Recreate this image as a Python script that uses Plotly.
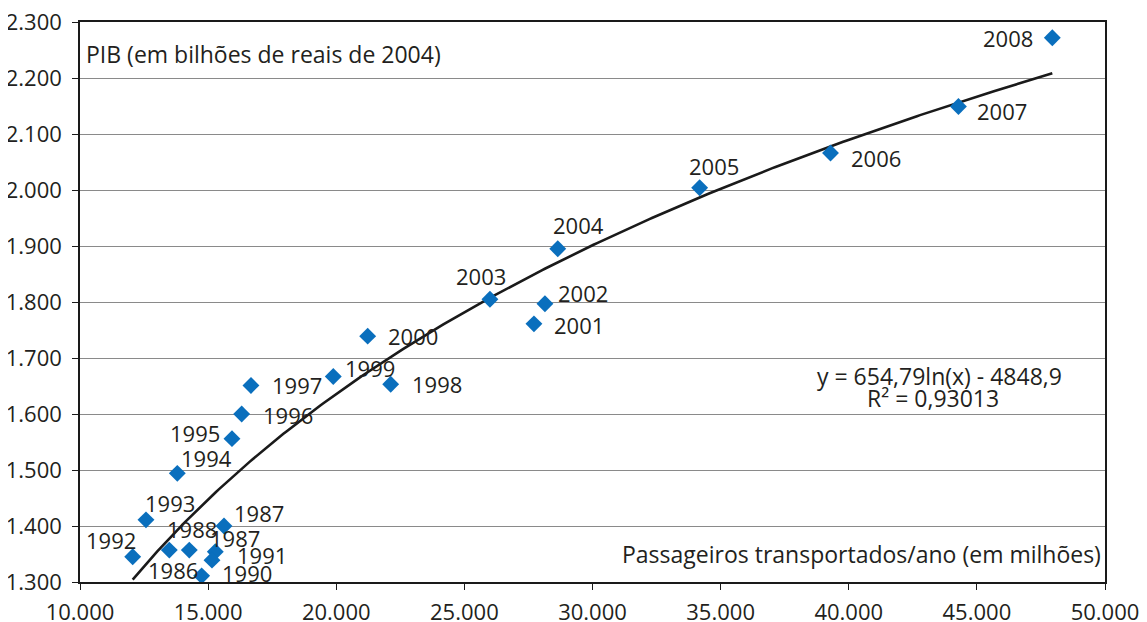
import numpy as np
import plotly.graph_objects as go

# ---- data ----
years = ["1986", "1987", "1988", "1987", "1990", "1991", "1992", "1993", "1994",
         "1995", "1996", "1997", "1998", "1999", "2000", "2001", "2002", "2003",
         "2004", "2005", "2006", "2007", "2008"]
passageiros = [13485, 15619, 14265, 15280, 14747, 15151, 12056, 12575, 13797,
               15931, 16309, 16672, 22124, 19884, 21226, 27715, 28144, 25998,
               28644, 34181, 39288, 44280, 47944]
pib = [1357, 1400, 1357, 1354, 1311, 1339, 1345, 1411, 1494,
       1556, 1600, 1651, 1653, 1667, 1739, 1761, 1797, 1805,
       1895, 2004, 2066, 2149, 2272]

# trend line coefficients shown on the chart: y = a*ln(x) + b
trend_a = 654.79
trend_b = -4848.9
equation_line = "y = 654,79ln(x) - 4848,9"
r2_line = "R² = 0,93013"

y_title = "PIB (em bilhões de reais de 2004)"
x_title = "Passageiros transportados/ano (em milhões)"

x_range = [10000, 50000]
y_range = [1300, 2300]

# label offsets in pixels (dx right, dy down) relative to each marker
label_offsets = [(4, 20), (35, -13), (3, -21), (20, -14), (45, -3), (50, -5),
                 (-22, -17), (24, -17), (29, -15), (-37, -6), (46, 1), (46, 0),
                 (46, 0), (37, -8), (45, 0), (45, 1), (38, -11), (-9, -23),
                 (21, -24), (14, -22), (45, 5), (44, 4), (-44, 0)]

FONT = "Open Sans"
TXT = "#231f20"
FS_NUM = 22
FS_TXT = 23

fig = go.Figure()

xt = np.linspace(min(passageiros), max(passageiros), 300)
fig.add_trace(go.Scatter(x=xt, y=trend_a * np.log(xt) + trend_b, mode="lines",
                         line=dict(color="#1a1a1a", width=2.6), hoverinfo="skip"))

fig.add_trace(go.Scatter(x=passageiros, y=pib, mode="markers",
                         marker=dict(symbol="diamond", size=13, color="#0a6fbd",
                                     line=dict(width=0))))

ann = []
for xv, yv, t, (dx, dy) in zip(passageiros, pib, years, label_offsets):
    ann.append(dict(x=xv, y=yv, xref="x", yref="y", text=t, showarrow=False,
                    xshift=dx, yshift=-dy,
                    font=dict(family=FONT, size=FS_NUM, color=TXT)))

ann.append(dict(x=0, y=1, xref="paper", yref="paper", text=y_title, showarrow=False,
                xanchor="left", yanchor="middle", xshift=4, yshift=-32,
                font=dict(family=FONT, size=FS_TXT, color=TXT)))
ann.append(dict(x=1, y=0, xref="paper", yref="paper", text=x_title, showarrow=False,
                xanchor="right", yanchor="middle", xshift=-2, yshift=28,
                font=dict(family=FONT, size=FS_TXT, color=TXT)))
ann.append(dict(x=0.839, y=0.368, xref="paper", yref="paper", text=equation_line,
                showarrow=False, xanchor="center", yanchor="middle",
                font=dict(family=FONT, size=FS_NUM + 1, color=TXT)))
ann.append(dict(x=0.832, y=0.329, xref="paper", yref="paper", text=r2_line,
                showarrow=False, xanchor="center", yanchor="middle",
                font=dict(family=FONT, size=FS_NUM + 1, color=TXT)))

axis_common = dict(showline=True, linecolor="#1a1a1a", linewidth=1.6, mirror=True,
                   ticks="outside", ticklen=6, tickcolor="#1a1a1a", tickwidth=1.4,
                   tickfont=dict(family=FONT, size=FS_NUM, color=TXT), zeroline=False,
                   tickformat=",d", automargin=False, ticklabeloverflow="allow")

# the page adds an 8px body margin, so the figure is sized to fit inside the window
fig.update_layout(
    width=1139, height=614,
    margin=dict(l=72, r=42, t=14, b=40),
    paper_bgcolor="white", plot_bgcolor="white",
    showlegend=False,
    separators=",.",
    annotations=ann,
    xaxis=dict(range=x_range, dtick=5000, showgrid=False, ticklabelstandoff=4,
               **axis_common),
    yaxis=dict(range=y_range, dtick=100, showgrid=True, gridcolor="#8a8a8a",
               gridwidth=1, ticklabelstandoff=6, **axis_common),
)

fig.write_html("out.html")
